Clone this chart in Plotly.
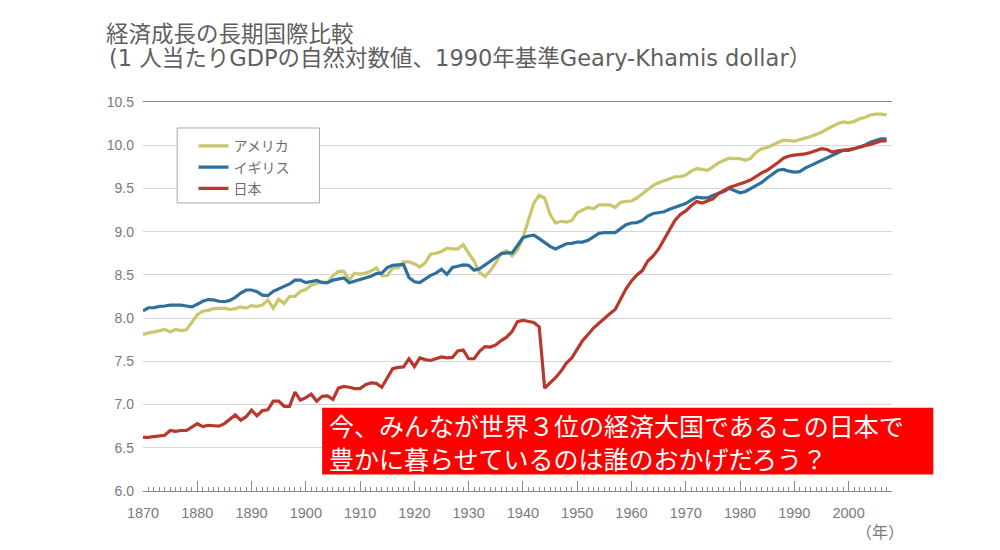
import plotly.graph_objects as go

years = list(range(1870, 2008))

usa = [7.81,7.83,7.84,7.855,7.87,7.84,7.87,7.855,7.865,7.95,
       8.04,8.08,8.09,8.11,8.115,8.115,8.10,8.11,8.13,8.115,
       8.145,8.135,8.15,8.21,8.115,8.22,8.17,8.25,8.25,8.31,
       8.33,8.38,8.40,8.42,8.41,8.49,8.54,8.54,8.44,8.52,
       8.51,8.52,8.545,8.58,8.49,8.49,8.58,8.58,8.65,8.65,
       8.63,8.59,8.64,8.74,8.75,8.77,8.81,8.80,8.80,8.85,
       8.75,8.66,8.53,8.48,8.55,8.64,8.75,8.78,8.72,8.79,
       8.93,9.12,9.33,9.42,9.39,9.20,9.10,9.12,9.11,9.13,
       9.22,9.25,9.28,9.265,9.31,9.31,9.31,9.28,9.34,9.35,
       9.355,9.39,9.44,9.49,9.535,9.565,9.59,9.615,9.635,9.635,
       9.655,9.70,9.73,9.72,9.71,9.75,9.795,9.825,9.85,9.845,
       9.845,9.825,9.85,9.92,9.96,9.975,10.0,10.035,10.06,10.055,
       10.045,10.065,10.08,10.10,10.125,10.15,10.185,10.22,10.25,10.27,
       10.26,10.275,10.305,10.32,10.35,10.36,10.36,10.35]

uk = [8.085,8.12,8.12,8.135,8.14,8.15,8.15,8.15,8.14,8.13,
      8.16,8.195,8.215,8.21,8.195,8.19,8.205,8.24,8.29,8.325,
      8.325,8.305,8.265,8.26,8.31,8.34,8.37,8.395,8.44,8.44,
      8.41,8.42,8.435,8.41,8.41,8.44,8.455,8.465,8.41,8.43,
      8.45,8.47,8.485,8.515,8.52,8.585,8.61,8.615,8.62,8.47,
      8.42,8.41,8.455,8.495,8.52,8.565,8.505,8.585,8.60,8.615,
      8.61,8.555,8.57,8.615,8.66,8.71,8.745,8.755,8.755,8.84,
      8.93,8.95,8.96,8.92,8.87,8.83,8.80,8.83,8.86,8.865,
      8.88,8.88,8.90,8.94,8.98,8.99,8.99,8.99,9.035,9.08,
      9.10,9.105,9.13,9.18,9.21,9.22,9.23,9.26,9.28,9.30,
      9.325,9.365,9.40,9.39,9.39,9.42,9.44,9.465,9.50,9.475,
      9.45,9.465,9.50,9.53,9.57,9.62,9.67,9.71,9.72,9.70,
      9.69,9.695,9.735,9.765,9.795,9.825,9.85,9.88,9.92,9.94,
      9.94,9.96,9.98,10.0,10.035,10.06,10.075,10.075]

japan = [6.62,6.62,6.63,6.64,6.645,6.70,6.69,6.70,6.70,6.74,
         6.78,6.745,6.76,6.755,6.75,6.78,6.835,6.88,6.82,6.86,
         6.935,6.87,6.93,6.94,7.04,7.04,6.98,6.98,7.145,7.05,
         7.08,7.12,7.04,7.095,7.10,7.06,7.19,7.21,7.20,7.185,
         7.185,7.23,7.25,7.245,7.20,7.31,7.415,7.43,7.435,7.53,
         7.44,7.54,7.52,7.51,7.535,7.55,7.54,7.545,7.62,7.63,
         7.53,7.53,7.615,7.67,7.665,7.69,7.74,7.78,7.845,7.96,
         7.975,7.965,7.95,7.90,7.19,7.25,7.31,7.385,7.48,7.54,
         7.635,7.74,7.81,7.885,7.94,8.0,8.05,8.10,8.22,8.34,
         8.43,8.50,8.55,8.66,8.72,8.80,8.91,9.02,9.13,9.20,
         9.24,9.30,9.35,9.33,9.36,9.38,9.44,9.48,9.51,9.53,
         9.55,9.575,9.60,9.645,9.68,9.71,9.75,9.80,9.85,9.875,
         9.885,9.89,9.90,9.915,9.94,9.96,9.95,9.92,9.935,9.94,
         9.95,9.96,9.98,9.995,10.01,10.035,10.05,10.05]

assert len(usa) == len(uk) == len(japan) == len(years)

series_names = ["アメリカ", "イギリス", "日本"]
series_colors = ["#c9c66c", "#2f6f9e", "#b9372c"]
y_ticks = [6.0, 6.5, 7.0, 7.5, 8.0, 8.5, 9.0, 9.5, 10.0, 10.5]
x_ticks = list(range(1870, 2001, 10))
title_line1 = "経済成長の長期国際比較"
title_line2 = "(1 人当たりGDPの自然対数値、1990年基準Geary-Khamis dollar）"
callout_text = ("今、みんなが世界３位の経済大国であるこの日本で<br>"
                "豊かに暮らせているのは誰のおかげだろう？")
unit_text = "（年）"

JP = "Noto Sans CJK JP"
MIX = "DejaVu Sans, Noto Sans CJK JP"
LAT = "Liberation Sans"
OFF = 8                       # page body margin
W, H = 992, 542
L, R, T, B = 142.5 - OFF, 891.7 - OFF, 102.3 - OFF, 491.5 - OFF
pw, ph = R - L, B - T


def px(x):
    return (x - OFF - L) / pw


def py(y):
    return 1 - (y - OFF - T) / ph


fig = go.Figure()
for name, vals, col in zip(series_names, [usa, uk, japan], series_colors):
    fig.add_trace(go.Scatter(x=years, y=vals, mode="lines", name=name,
                             line=dict(color=col, width=3.2)))

fig.update_layout(
    width=W, height=H,
    autosize=False,
    paper_bgcolor="white", plot_bgcolor="white",
    margin=dict(l=L, r=W - R, t=T, b=H - B, pad=0),
    title=dict(text=title_line1, x=(106 - OFF) / W, xref="container", xanchor="left",
               y=1 - (34 - OFF) / H, yref="container", yanchor="middle",
               font=dict(family=MIX, size=22.5, color="#5f5f5f")),
    showlegend=True,
    legend=dict(x=px(193), y=py(130.6), xanchor="left", yanchor="top",
                bgcolor="rgba(0,0,0,0)",
                entrywidth=110, entrywidthmode="pixels",
                itemwidth=30, tracegroupgap=0,
                font=dict(family="Liberation Sans, Noto Sans CJK JP", size=14, color="#6e6e6e")),
    xaxis=dict(range=[1870, 2008], tickmode="array", tickvals=x_ticks,
               ticktext=[str(v) for v in x_ticks],
               ticks="inside", ticklen=10, tickwidth=1, tickcolor="#8a8a8a",
               showline=True, linecolor="#8a8a8a", linewidth=1, mirror=True,
               showgrid=False, zeroline=False, ticklabelstandoff=9,
               tickfont=dict(family=LAT, size=14.5, color="#7a7a7a"),
               minor=dict(dtick=1, ticks="inside", ticklen=4, tickwidth=1,
                          tickcolor="#8a8a8a", showgrid=False)),
    yaxis=dict(range=[6, 10.5], tickmode="array", tickvals=y_ticks,
               ticktext=[f"{v:.1f}" for v in y_ticks],
               ticks="", showline=False, showgrid=True, gridcolor="#d6d6d6",
               gridwidth=1, zeroline=False, ticklabelstandoff=8,
               tickfont=dict(family=LAT, size=14, color="#7a7a7a")),
    shapes=[dict(type="rect", xref="paper", yref="paper",
                 x0=px(176.7), x1=px(319), y0=py(128.3), y1=py(203.3),
                 line=dict(color="#aaaaaa", width=1), fillcolor="white", layer="above"),
            dict(type="rect", xref="paper", yref="paper",
                 x0=px(321.7), x1=px(933), y0=py(408.3), y1=py(475),
                 line=dict(width=0), fillcolor="#ff0000", layer="above")],
)

fig.add_annotation(xref="paper", yref="paper", x=px(106), y=py(58),
                   xanchor="left", yanchor="middle", showarrow=False,
                   text=title_line2, font=dict(family=MIX, size=22.5, color="#5f5f5f"))
fig.add_annotation(xref="paper", yref="paper", x=px(328), y=py(441.7),
                   xanchor="left", yanchor="middle", showarrow=False,
                   align="left", borderpad=0,
                   text=callout_text,
                   font=dict(family=JP, size=25, color="white"))
fig.add_annotation(xref="paper", yref="paper", x=px(905.5), y=py(532),
                   xanchor="right", yanchor="middle", showarrow=False,
                   text=unit_text,
                   font=dict(family=JP, size=16, color="#7a7a7a"))

fig.write_html("out.html")
